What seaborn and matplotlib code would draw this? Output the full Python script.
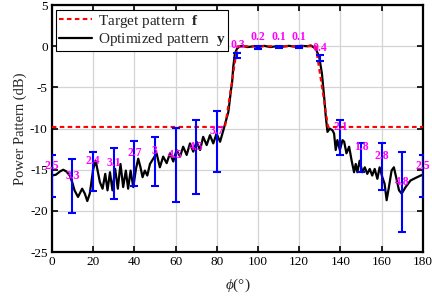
import numpy as np
import pandas as pd
import matplotlib
matplotlib.use("Agg")
import matplotlib.pyplot as plt
import seaborn as sns

# target pattern f (dB)
target_phi = [0, 84, 90, 128, 134, 180]
target_db = [-9.8, -9.8, 0, 0, -9.8, -9.8]

# optimized pattern y (dB)
opt_phi = [0, 2, 4, 5.5, 7, 8.7, 10, 11, 12.7, 13.7, 14.7, 16, 17.2, 18.4, 19.3,
           20, 21.2, 21.7, 23.3, 24.6, 25.9, 27, 28.2, 29.4, 30.7, 32, 33.3, 34.6,
           35.9, 37, 38.2, 39.5, 40.8, 41.9, 43, 44, 45.1, 46.3, 47.6, 49.2, 50.8,
           52.4, 54, 55.7, 57.3, 58.9, 60.5, 62.2, 63.7, 65.4, 67, 68.6, 70.2,
           71.9, 73.4, 75.1, 76.7, 78.3, 79.9, 81.6, 83.2, 84.5, 85.6, 86.1, 86.9,
           87.4, 88, 88.8, 89.8, 90.9, 92, 95, 98, 100, 103, 106, 109, 112, 115,
           118, 121, 124, 125.6, 128, 129.7, 131, 132.1, 132.9, 133.7, 134.8,
           136.1, 136.9, 137.7, 138.5, 139.7, 141, 141.8, 142.9, 144.2, 145.5,
           146.6, 147.4, 148.2, 149.3, 150.6, 151.8, 153, 154.2, 155.4, 156.6,
           157.9, 159, 160.3, 161.4, 162.4, 163.5, 164.8, 165.9, 167, 168.4,
           169.7, 171.6, 174, 176.4, 178.9, 180]
opt_db = [-15.7, -15.6, -15.2, -15.0, -15.2, -15.7, -16.6, -17.5, -18.3, -17.8,
          -17.3, -17.9, -18.8, -17.9, -16.3, -15.0, -13.9, -14.45, -16.5, -17.3,
          -15.5, -17.5, -15.3, -17.5, -14.9, -17.3, -14.3, -17.1, -15.1, -17.3,
          -15.1, -17.1, -14.9, -13.65, -14.7, -15.9, -15.1, -15.7, -14.3, -13.65,
          -13.0, -14.7, -13.4, -14.2, -13.0, -14.0, -12.6, -13.4, -12.2, -13.2,
          -11.8, -12.8, -11.6, -12.6, -11.0, -12.0, -10.8, -11.8, -10.6, -11.6,
          -10.2, -9.0, -8.0, -7.0, -5.3, -4.5, -2.5, -0.9, -0.3, -0.07, 0.05,
          -0.1, 0.0, -0.1, 0.05, -0.1, 0.0, -0.05, 0.05, -0.05, 0.05, 0.0, 0.1,
          -0.3, -1.3, -3.3, -6.2, -8.6, -10.4, -10.0, -10.2, -10.6, -12.6, -11.4,
          -12.6, -11.4, -11.6, -13.0, -12.2, -14.0, -15.3, -14.3, -15.3, -13.9,
          -15.3, -14.7, -15.5, -14.9, -15.7, -14.9, -16.1, -14.7, -15.9, -16.7,
          -18.7, -17.1, -15.1, -14.7, -15.9, -17.5, -17.9, -17.1, -16.3, -16.0,
          -15.7, -15.6]

# error bars: sample angle, mean and standard deviation (dB)
err_phi = [0, 10, 20, 30, 40, 50, 60, 70, 80, 90, 100, 110, 120, 130, 140, 150, 160, 170, 180]
err_mean = [-15.75, -17.0, -15.2, -15.4, -14.25, -14.0, -14.45, -13.5, -11.55, -1.16,
            -0.14, -0.08, -0.1, -1.44, -11.1, -13.5, -14.6, -17.7, -15.75]
err_std = [2.5, 3.3, 2.4, 3.1, 2.7, 3.0, 4.5, 4.5, 3.7, 0.3,
           0.2, 0.1, 0.1, 0.4, 2.1, 1.8, 2.8, 4.8, 2.5]
err_labels = ["2.5", "3.3", "2.4", "3.1", "2.7", "3", "4.5", "4.5", "3.7", "0.3",
              "0.2", "0.1", "0.1", "0.4", "2.1", "1.8", "2.8", "4.8", "2.5"]

sns.set_theme(style="ticks")
plt.rcParams["font.family"] = ["Liberation Serif", "DejaVu Serif"]
plt.rcParams["axes.unicode_minus"] = False
plt.rcParams["mathtext.fontset"] = "custom"
plt.rcParams["mathtext.rm"] = "Liberation Serif"
plt.rcParams["mathtext.it"] = "Liberation Serif:italic"
plt.rcParams["mathtext.bf"] = "Liberation Serif:bold"

target_df = pd.DataFrame({"phi": target_phi, "dB": target_db})
opt_df = pd.DataFrame({"phi": opt_phi, "dB": opt_db})

fig = plt.figure(figsize=(4.32, 2.98), dpi=100)
ax = fig.add_axes([0.120, 0.154, 0.859, 0.829])

sns.lineplot(data=opt_df, x="phi", y="dB", ax=ax, color="black", linewidth=1.6,
             label=r"Optimized pattern  $\mathbf{y}$", zorder=3)
sns.lineplot(data=target_df, x="phi", y="dB", ax=ax, color="#ff0000", linewidth=1.5,
             linestyle=(0, (2.2, 1.6)), label=r"Target pattern  $\mathbf{f}$", zorder=4)
ax.errorbar(err_phi, err_mean, yerr=err_std, fmt="none", ecolor="#0000ff",
            elinewidth=1.5, capsize=3, capthick=1.5, zorder=5)
for xp, m, lab in zip(err_phi, err_mean, err_labels):
    ax.text(xp, m + 1.25, lab, color="#ff00ff", fontsize=8.5, fontweight="bold",
            ha="center", va="center", zorder=6)

ax.set_xlim(0, 180)
ax.set_ylim(-25, 5)
ax.set_xticks(np.arange(0, 181, 20))
ax.set_yticks(np.arange(-25, 6, 5))
ax.grid(True, color="#d4d4d4", linewidth=0.9)
ax.set_axisbelow(True)
ax.tick_params(direction="in", top=True, right=True, length=4, width=1.2,
               labelsize=9.5, colors="black", pad=3)
for s in ax.spines.values():
    s.set_linewidth(1.6)
    s.set_color("black")
ax.set_xlabel(r"$\phi$(°)", fontsize=11, labelpad=6)
ax.set_ylabel("Power Pattern (dB)", fontsize=10.5, labelpad=2)

h, l = ax.get_legend_handles_labels()
leg = ax.legend(h[::-1], l[::-1], loc="upper left", fontsize=11, frameon=True,
                fancybox=False, framealpha=1, edgecolor="black", handlelength=2.1,
                borderpad=0.2, labelspacing=0.1, handletextpad=0.4,
                borderaxespad=0.3)
leg.get_frame().set_linewidth(0.8)

fig.savefig("out.png", dpi=100)
